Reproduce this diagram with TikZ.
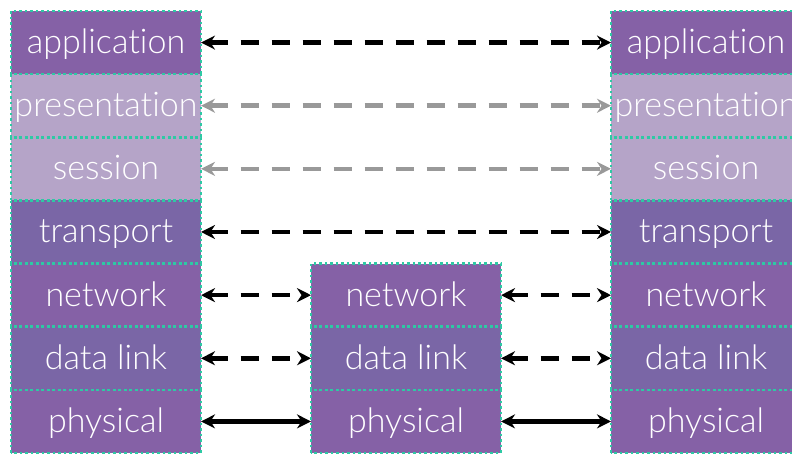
\documentclass[tikz,border=0pt]{standalone}
\usepackage{fontspec}
\setmainfont{Lato Light}[Ligatures=NoCommon]
\usetikzlibrary{arrows.meta}
\definecolor{dpurple}{HTML}{8561A6}
\definecolor{bpurple}{HTML}{7A66A6}
\definecolor{lpurple}{HTML}{B5A4C8}
\definecolor{teal}{HTML}{2EC9A4}
\definecolor{garrow}{HTML}{999999}
\begin{document}
\begin{tikzpicture}[x=1pt,y=1pt,
  layer/.style={minimum width=190pt, minimum height=63.14pt, inner sep=0pt, outer sep=0pt,
    text=white, font=\fontsize{34}{34}\selectfont, text height=24pt, text depth=2pt},
  dk/.style={layer, fill=dpurple},
  bl/.style={layer, fill=bpurple},
  lt/.style={layer, fill=lpurple},
  border/.style={draw=teal, line width=2.5pt, dash pattern=on 2.5pt off 3pt},
  peer/.style={line width=4.5pt, {Stealth[length=14pt,width=14pt]}-{Stealth[length=14pt,width=14pt]}, dash pattern=on 18pt off 13pt},
  gpeer/.style={peer, draw=garrow},
  wire/.style={line width=4.5pt, {Stealth[length=14pt,width=14pt]}-{Stealth[length=14pt,width=14pt]}}
]
\useasboundingbox (0,0) rectangle (792,453);
% left stack
\node[dk] (la) at (106,{453-11-63.14*0.5}) {application};
\node[lt] (lp) at (106,{453-11-63.14*1.5}) {presentation};
\node[lt] (ls) at (106,{453-11-63.14*2.5}) {session};
\node[bl] (lt) at (106,{453-11-63.14*3.5}) {transport};
\node[dk] (ln) at (106,{453-11-63.14*4.5}) {network};
\node[bl] (ld) at (106,{453-11-63.14*5.5}) {data link};
\node[dk] (lh) at (106,{453-11-63.14*6.5}) {physical};
% middle stack
\node[dk] (mn) at (406,{453-11-63.14*4.5}) {network};
\node[bl] (md) at (406,{453-11-63.14*5.5}) {data link};
\node[dk] (mh) at (406,{453-11-63.14*6.5}) {physical};
% right stack
\node[dk] (ra) at (706,{453-11-63.14*0.5}) {application};
\node[lt] (rp) at (706,{453-11-63.14*1.5}) {presentation};
\node[lt] (rs) at (706,{453-11-63.14*2.5}) {session};
\node[bl] (rt) at (706,{453-11-63.14*3.5}) {transport};
\node[dk] (rn) at (706,{453-11-63.14*4.5}) {network};
\node[bl] (rd) at (706,{453-11-63.14*5.5}) {data link};
\node[dk] (rh) at (706,{453-11-63.14*6.5}) {physical};
% dotted borders
\foreach \n in {la,lp,ls,lt,ln,ld,lh,mn,md,mh,ra,rp,rs,rt,rn,rd,rh}
  \draw[border] (\n.south west) rectangle (\n.north east);
% connectors
\draw[peer] (la.east) -- (ra.west);
\draw[gpeer] (lp.east) -- (rp.west);
\draw[gpeer] (ls.east) -- (rs.west);
\draw[peer] (lt.east) -- (rt.west);
\draw[peer] (ln.east) -- (mn.west);
\draw[peer] (mn.east) -- (rn.west);
\draw[peer] (ld.east) -- (md.west);
\draw[peer] (md.east) -- (rd.west);
\draw[wire] (lh.east) -- (mh.west);
\draw[wire] (mh.east) -- (rh.west);
\end{tikzpicture}
\end{document}
